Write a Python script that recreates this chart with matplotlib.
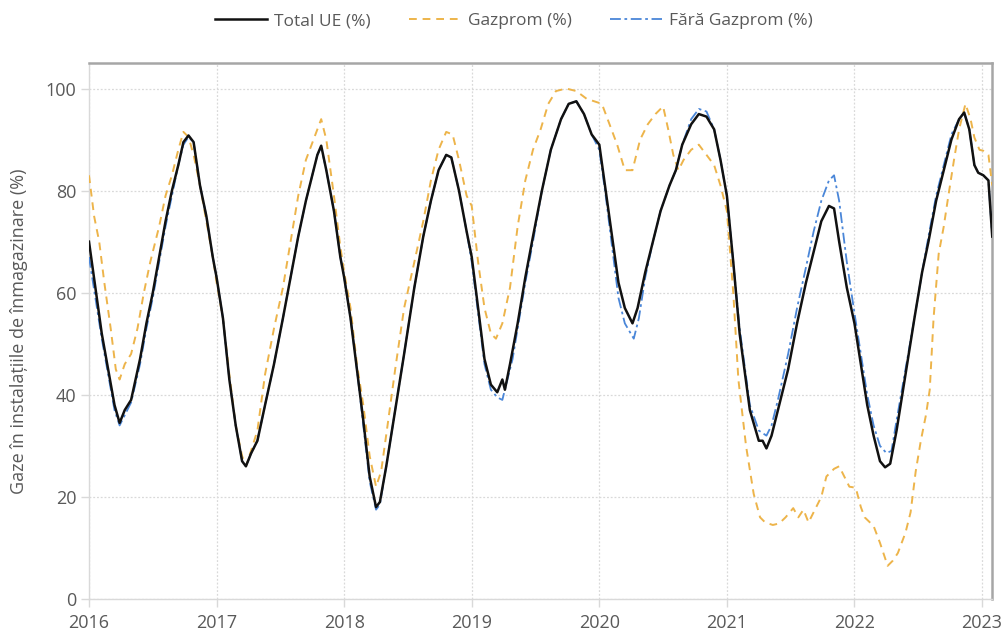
import matplotlib
matplotlib.use("Agg")
import matplotlib.pyplot as plt

plt.rcParams['font.family'] = ['Open Sans', 'DejaVu Sans']

# Total UE (%) - an fractionar, valoare
total_t = [2016.00, 2016.05, 2016.10, 2016.15, 2016.20, 2016.24, 2016.28, 2016.33, 2016.40, 2016.45,
           2016.50, 2016.55, 2016.60, 2016.65, 2016.70, 2016.74, 2016.78, 2016.82, 2016.87, 2016.92,
           2016.97, 2017.00, 2017.05, 2017.10, 2017.15, 2017.20, 2017.23, 2017.27, 2017.32, 2017.38,
           2017.45, 2017.52, 2017.58, 2017.64, 2017.70, 2017.75, 2017.79, 2017.82, 2017.86, 2017.92,
           2017.97, 2018.00, 2018.05, 2018.10, 2018.15, 2018.20, 2018.25, 2018.28, 2018.33, 2018.40,
           2018.47, 2018.55, 2018.62, 2018.68, 2018.74, 2018.80, 2018.84, 2018.90, 2018.96, 2019.00,
           2019.05, 2019.10, 2019.15, 2019.20, 2019.24, 2019.26, 2019.30, 2019.36, 2019.42, 2019.48,
           2019.55, 2019.62, 2019.70, 2019.76, 2019.82, 2019.88, 2019.94, 2020.00, 2020.05, 2020.10,
           2020.15, 2020.20, 2020.26, 2020.30, 2020.36, 2020.42, 2020.48, 2020.55, 2020.60, 2020.65,
           2020.72, 2020.78, 2020.84, 2020.90, 2020.95, 2021.00, 2021.05, 2021.10, 2021.18, 2021.25,
           2021.28, 2021.31, 2021.35, 2021.40, 2021.48, 2021.55, 2021.62, 2021.68, 2021.74, 2021.80,
           2021.84, 2021.88, 2021.94, 2022.00, 2022.05, 2022.10, 2022.15, 2022.20, 2022.24, 2022.28,
           2022.33, 2022.40, 2022.47, 2022.53, 2022.58, 2022.64, 2022.70, 2022.76, 2022.82, 2022.86,
           2022.90, 2022.94, 2022.97, 2023.01, 2023.05, 2023.08]
total_v = [70, 61, 52, 45, 38, 34.5, 37, 39, 47, 54,
           60, 67, 74, 80, 85, 89.5, 90.8, 89.5, 81, 75,
           67, 63, 55, 43, 34, 27, 26, 28.5, 31, 38,
           46, 55, 63, 71, 78, 83, 87, 88.8, 84, 76,
           67, 63, 55, 45, 35, 24, 18, 19, 26, 37,
           48, 61, 71, 78, 84, 87, 86.5, 80, 72, 67,
           57, 47, 42, 40.5, 43, 41, 46, 54, 63, 71,
           80, 88, 94, 97, 97.5, 95, 91, 89, 80, 71,
           62, 57, 54, 57, 64, 70, 76, 81, 84, 89,
           93, 95, 94.5, 92, 86, 79, 66, 52, 37, 31,
           31, 29.5, 32, 37, 45, 54, 62, 68, 74, 77,
           76.5, 70, 61, 54, 46, 38, 32, 27, 25.8, 26.5,
           33, 44, 55, 64, 70, 78, 84, 90, 94, 95.3,
           92, 85, 83.5, 83, 82, 71]

# Gazprom (%)
gaz_t = [2016.00, 2016.04, 2016.08, 2016.12, 2016.17, 2016.21, 2016.24, 2016.28, 2016.33, 2016.38,
         2016.43, 2016.48, 2016.55, 2016.60, 2016.65, 2016.70, 2016.74, 2016.78, 2016.82, 2016.87,
         2016.92, 2016.97, 2017.00, 2017.05, 2017.10, 2017.15, 2017.20, 2017.23, 2017.27, 2017.32,
         2017.38, 2017.45, 2017.52, 2017.58, 2017.64, 2017.70, 2017.76, 2017.82, 2017.86, 2017.92,
         2017.97, 2018.00, 2018.05, 2018.10, 2018.15, 2018.20, 2018.25, 2018.29, 2018.34, 2018.40,
         2018.47, 2018.55, 2018.62, 2018.68, 2018.74, 2018.80, 2018.85, 2018.90, 2018.96, 2019.00,
         2019.05, 2019.10, 2019.15, 2019.19, 2019.24, 2019.30, 2019.36, 2019.42, 2019.48, 2019.54,
         2019.60, 2019.66, 2019.74, 2019.82, 2019.90, 2019.96, 2020.02, 2020.08, 2020.14, 2020.20,
         2020.26, 2020.32, 2020.38, 2020.44, 2020.50, 2020.54, 2020.58, 2020.62, 2020.66, 2020.72,
         2020.78, 2020.84, 2020.90, 2020.95, 2021.00, 2021.05, 2021.09, 2021.15, 2021.21, 2021.26,
         2021.30, 2021.36, 2021.41, 2021.46, 2021.52, 2021.56, 2021.60, 2021.64, 2021.70, 2021.74,
         2021.78, 2021.84, 2021.88, 2021.92, 2021.96, 2022.01, 2022.05, 2022.08, 2022.15, 2022.20,
         2022.26, 2022.30, 2022.34, 2022.40, 2022.44, 2022.48, 2022.52, 2022.56, 2022.59, 2022.62,
         2022.66, 2022.70, 2022.73, 2022.78, 2022.82, 2022.87, 2022.91, 2022.94, 2022.98, 2023.01,
         2023.05, 2023.08]
gaz_v = [83, 75, 70, 62, 53, 45, 43, 46, 48, 53,
         60, 66, 73, 79, 83, 88, 91.5, 90.5, 87, 81,
         74, 67, 62, 55, 44, 34, 28, 26, 29, 33,
         44, 53, 61, 70, 79, 86, 90, 94, 90, 79,
         69, 64, 57, 46, 38, 28, 22, 25, 34, 45,
         57, 66, 74, 82, 88, 91.5, 91, 86, 79, 77,
         66, 57, 52, 51, 54, 61, 73, 82, 88, 92,
         97, 99.5, 100, 99.5, 98, 97.5, 97, 93, 89, 84,
         84, 90, 93, 95, 96.5, 92, 87, 84, 86, 88,
         89, 87, 85, 81, 76, 60, 43, 30, 20.6, 16,
         15, 14.5, 14.8, 16, 17.8, 16, 17.5, 15, 18, 20,
         24, 25.5, 26, 24, 22, 21.8, 18, 16, 14.3, 11,
         6.5, 7.5, 9, 13, 17, 25, 31, 36, 41, 55,
         67.6, 73, 78, 86, 92, 97, 94, 90.4, 88, 87.8,
         87, 81]

# Fara Gazprom (%)
fara_t = [2016.00, 2016.05, 2016.10, 2016.15, 2016.20, 2016.24, 2016.28, 2016.33, 2016.40, 2016.45,
          2016.50, 2016.55, 2016.60, 2016.65, 2016.70, 2016.74, 2016.78, 2016.82, 2016.87, 2016.92,
          2016.97, 2017.00, 2017.05, 2017.10, 2017.15, 2017.20, 2017.23, 2017.27, 2017.32, 2017.38,
          2017.45, 2017.52, 2017.58, 2017.64, 2017.70, 2017.75, 2017.79, 2017.82, 2017.86, 2017.92,
          2017.97, 2018.00, 2018.05, 2018.10, 2018.15, 2018.20, 2018.25, 2018.28, 2018.33, 2018.40,
          2018.47, 2018.55, 2018.62, 2018.68, 2018.74, 2018.80, 2018.84, 2018.90, 2018.96, 2019.00,
          2019.05, 2019.10, 2019.15, 2019.20, 2019.24, 2019.28, 2019.32, 2019.36, 2019.42, 2019.48,
          2019.55, 2019.62, 2019.70, 2019.76, 2019.82, 2019.88, 2019.94, 2020.00, 2020.05, 2020.10,
          2020.15, 2020.20, 2020.27, 2020.31, 2020.36, 2020.42, 2020.48, 2020.55, 2020.60, 2020.65,
          2020.72, 2020.78, 2020.84, 2020.90, 2020.95, 2021.00, 2021.05, 2021.10, 2021.18, 2021.25,
          2021.28, 2021.31, 2021.35, 2021.40, 2021.48, 2021.55, 2021.62, 2021.68, 2021.74, 2021.80,
          2021.84, 2021.88, 2021.94, 2022.00, 2022.05, 2022.10, 2022.15, 2022.20, 2022.25, 2022.29,
          2022.33, 2022.40, 2022.47, 2022.53, 2022.58, 2022.64, 2022.70, 2022.76, 2022.82, 2022.86,
          2022.90, 2022.94, 2022.97, 2023.01, 2023.05, 2023.08]
fara_v = [67, 59, 51, 44, 37, 34, 36, 38.5, 46, 53,
          59, 66, 73, 79, 85, 89, 90.5, 89.5, 81, 75,
          67, 63, 55, 43, 34, 27, 26, 28.5, 31, 38,
          46, 55, 63, 71, 78, 83, 87, 88.5, 84, 76,
          67, 63, 55, 45, 34, 23, 17.5, 18.5, 26, 37,
          48, 61, 71, 78, 84, 87, 86.5, 80, 72, 66,
          56, 46, 41, 39.5, 39, 43, 47, 53, 62, 70,
          80, 88, 94, 97, 97.5, 95, 91, 88, 79, 69,
          59, 54, 51, 55, 63, 70, 76, 81, 84, 89,
          94, 96, 95.5, 92, 86, 79, 66, 53, 38, 33,
          32.5, 32, 34, 39, 48, 57, 65, 72, 78, 82,
          83, 78, 66, 56, 48, 40, 34, 30, 28.6, 29,
          35, 45, 55, 64, 71, 79, 85, 91, 94, 95.3,
          92, 85, 83.5, 83, 82, 71]

years = [2016, 2017, 2018, 2019, 2020, 2021, 2022, 2023]
yticks = [0, 20, 40, 60, 80, 100]

txt = '#595959'
fig = plt.figure(figsize=(10.03, 6.32), dpi=100)
ax = fig.add_axes([89 / 1003, 33 / 632, (992 - 89) / 1003, (599 - 63) / 632])

l1, = ax.plot(total_t, total_v, color='#111111', lw=1.8, label='Total UE (%)', zorder=4)
l2, = ax.plot(gaz_t, gaz_v, color='#EDB44A', lw=1.4, ls=(0, (4, 3)), label='Gazprom (%)', zorder=3)
l3, = ax.plot(fara_t, fara_v, color='#4A86D8', lw=1.3, ls=(0, (6, 2, 1.5, 2)), label='Fără Gazprom (%)', zorder=3.5)

ax.set_xlim(2016, 2023.078)
ax.set_ylim(0, 105)
ax.set_xticks(years)
ax.set_yticks(yticks)
ax.grid(True, color='#d9d9d9', ls=(0, (1.5, 1.5)), lw=0.9)
ax.set_axisbelow(True)

for s in ['left', 'bottom']:
    ax.spines[s].set_color('#d9d9d9')
    ax.spines[s].set_linewidth(1.0)
for s in ['top', 'right']:
    ax.spines[s].set_color('#a6a6a6')
    ax.spines[s].set_linewidth(1.8)

ax.tick_params(axis='both', colors='#d9d9d9', labelcolor=txt, labelsize=13, length=6, width=1)
ax.tick_params(axis='y', pad=3)
ax.tick_params(axis='x', pad=5)

ax.set_ylabel('Gaze în instalațiile de înmagazinare (%)', color=txt, fontsize=13)
ax.yaxis.set_label_coords(-0.068, 0.5)

fig.legend(handles=[l1, l2, l3], loc='center', bbox_to_anchor=(0.5125, 1 - 21 / 632), ncol=3,
           frameon=False, fontsize=12.5, labelcolor=txt, handlelength=3.0, columnspacing=2.2,
           handletextpad=0.4)

fig.savefig('out.png', dpi=100)
